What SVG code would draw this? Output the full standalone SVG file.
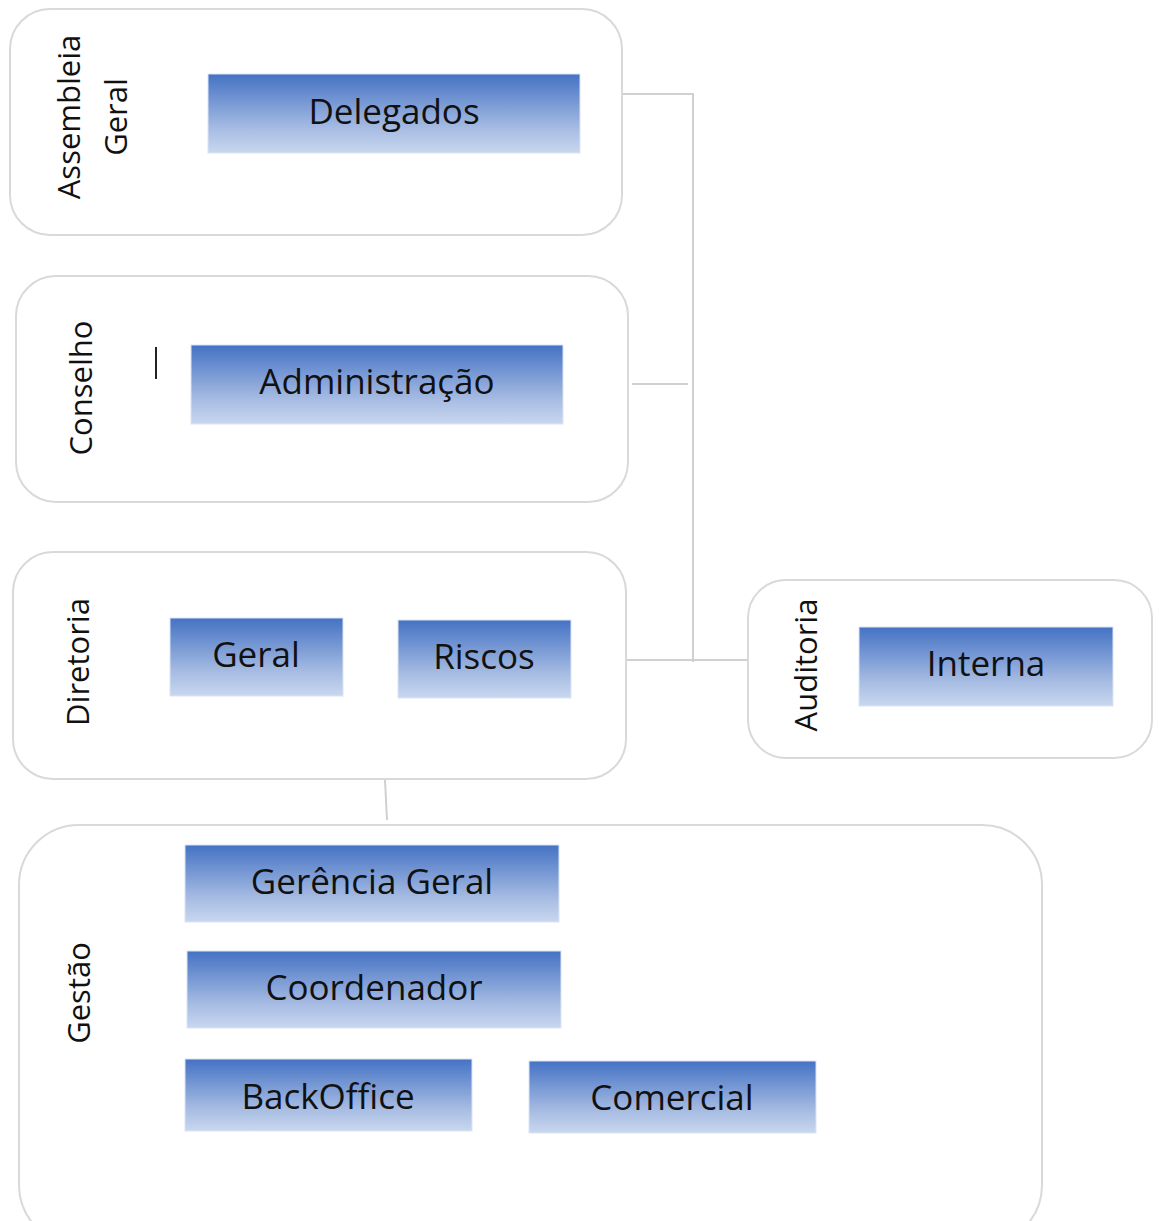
<svg xmlns="http://www.w3.org/2000/svg" width="1159" height="1221" viewBox="0 0 1159 1221">
<defs>
<linearGradient id="g" x1="0" y1="0" x2="0" y2="1">
<stop offset="0" stop-color="#4472C4"/>
<stop offset="0.7" stop-color="#A8BDE3"/>
<stop offset="1" stop-color="#C9D7EF"/>
</linearGradient>
<style>
.grp{fill:#fff;stroke:#d9d9d9;stroke-width:2}
.box{fill:url(#g);stroke:#dbe4f4;stroke-width:1}
.t{font-family:"Open Sans","Liberation Sans",sans-serif;font-size:35px;fill:#111;text-anchor:middle;dominant-baseline:central}
.v{font-family:"Open Sans","Liberation Sans",sans-serif;font-size:31px;fill:#111;text-anchor:middle;dominant-baseline:central}
.c{fill:none;stroke:#d0d0d0;stroke-width:2}
</style>
</defs>
<g id="connectors">
<polyline class="c" points="622,94 693,94 693,662"/>
<line class="c" x1="632" y1="384" x2="688" y2="384"/>
<line class="c" x1="618" y1="660" x2="748" y2="660"/>
<line class="c" x1="385" y1="780" x2="387" y2="820"/>
</g>
<g id="assembleia">
<rect class="grp" x="10" y="9" width="612" height="226" rx="40"/>
<text class="v" transform="translate(68,117) rotate(-90)">Assembleia</text>
<text class="v" transform="translate(115,117) rotate(-90)">Geral</text>
</g>
<g id="delegados">
<rect class="box" x="208" y="74" width="372" height="79"/>
<text class="t" x="394" y="110">Delegados</text>
</g>
<g id="conselho">
<rect class="grp" x="16" y="276" width="612" height="226" rx="40"/>
<text class="v" transform="translate(80,388) rotate(-90)">Conselho</text>
<line x1="156" y1="347" x2="156" y2="379" stroke="#222" stroke-width="2"/>
</g>
<g id="administracao">
<rect class="box" x="191" y="345" width="372" height="79"/>
<text class="t" x="377" y="380">Administração</text>
</g>
<g id="diretoria">
<rect class="grp" x="13" y="552" width="613" height="227" rx="40"/>
<text class="v" transform="translate(77,662) rotate(-90)">Diretoria</text>
</g>
<g id="geral">
<rect class="box" x="170" y="618" width="173" height="78"/>
<text class="t" x="256" y="653">Geral</text>
</g>
<g id="riscos">
<rect class="box" x="398" y="620" width="173" height="78"/>
<text class="t" x="484" y="655">Riscos</text>
</g>
<g id="auditoria">
<rect class="grp" x="748" y="580" width="404" height="178" rx="38"/>
<text class="v" transform="translate(805,665) rotate(-90)">Auditoria</text>
</g>
<g id="interna">
<rect class="box" x="859" y="627" width="254" height="79"/>
<text class="t" x="986" y="662">Interna</text>
</g>
<g id="gestao">
<rect class="grp" x="19" y="825" width="1023" height="420" rx="60"/>
<text class="v" transform="translate(78,993) rotate(-90)">Gestão</text>
</g>
<g id="gerencia">
<rect class="box" x="185" y="845" width="374" height="77"/>
<text class="t" x="372" y="880">Gerência Geral</text>
</g>
<g id="coordenador">
<rect class="box" x="187" y="951" width="374" height="77"/>
<text class="t" x="374" y="986">Coordenador</text>
</g>
<g id="backoffice">
<rect class="box" x="185" y="1059" width="287" height="72"/>
<text class="t" x="328" y="1095">BackOffice</text>
</g>
<g id="comercial">
<rect class="box" x="529" y="1061" width="287" height="72"/>
<text class="t" x="672" y="1096">Comercial</text>
</g>
</svg>
